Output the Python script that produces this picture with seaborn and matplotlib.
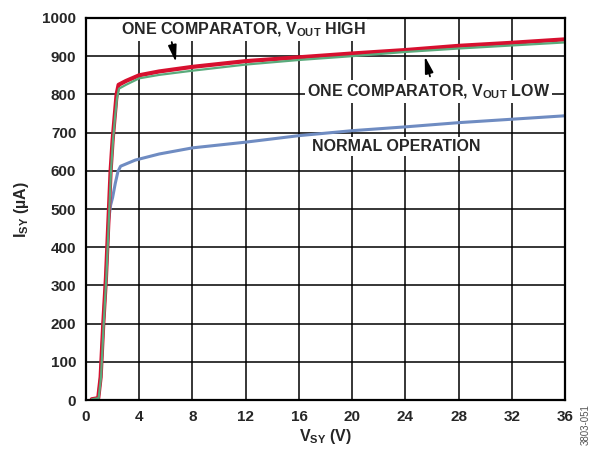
import matplotlib
matplotlib.use("Agg")
import matplotlib.pyplot as plt
import seaborn as sns

# supply voltage (V) and supply current (uA)
v_high = [0.43, 0.92, 1.1, 1.3, 1.5, 1.7, 1.85, 2.0, 2.15, 2.3, 2.45, 3.0, 4.0, 5.5, 8, 12, 16, 20, 24, 28, 32, 36]
i_high = [2, 5, 60, 200, 320, 480, 600, 680, 740, 800, 825, 835, 850, 860, 872, 887, 897, 907, 916, 927, 935, 944]

v_low = [0.43, 0.95, 1.13, 1.33, 1.53, 1.73, 1.88, 2.03, 2.18, 2.33, 2.48, 3.0, 4.0, 5.5, 8, 12, 16, 20, 24, 28, 32, 36]
i_low = [2, 5, 60, 200, 320, 480, 600, 680, 740, 790, 815, 825, 842, 851, 862, 878, 890, 900, 911, 920, 928, 936]

v_norm = [0.43, 0.92, 1.1, 1.3, 1.5, 1.7, 1.85, 2.0, 2.2, 2.4, 2.6, 3.7, 5.5, 8, 12, 16, 20, 24, 28, 32, 36]
i_norm = [2, 5, 60, 200, 320, 470, 510, 530, 567, 598, 612, 628, 644, 660, 675, 692, 705, 715, 726, 735, 744]

x_ticks = list(range(0, 37, 4))
y_ticks = list(range(0, 1001, 100))

sns.set_style("white")
plt.rcParams['font.family'] = ['Liberation Sans', 'DejaVu Sans']
plt.rcParams['font.weight'] = 'bold'
plt.rcParams['mathtext.fontset'] = 'custom'
plt.rcParams['mathtext.rm'] = 'Liberation Sans:bold'
plt.rcParams['mathtext.bf'] = 'Liberation Sans:bold'
plt.rcParams['mathtext.it'] = 'Liberation Sans:bold'

fig = plt.figure(figsize=(5.93, 4.49), dpi=100)
ax = fig.add_axes([0.145, 0.109, 0.808, 0.851])

sns.lineplot(x=v_norm, y=i_norm, ax=ax, color="#6f8cc2", linewidth=2.2, estimator=None, sort=False)
sns.lineplot(x=v_high, y=i_high, ax=ax, color="#d7102f", linewidth=3.0, estimator=None, sort=False)
sns.lineplot(x=v_low, y=i_low, ax=ax, color="#5aab7c", linewidth=1.6, estimator=None, sort=False)

ax.set_xlim(0, 36)
ax.set_ylim(0, 1000)
ax.set_xticks(x_ticks)
ax.set_yticks(y_ticks)
ax.grid(True, color="black", linewidth=1.1)
ax.set_axisbelow(True)
for s in ax.spines.values():
    s.set_color("black")
    s.set_linewidth(1.6)
ax.tick_params(length=0, labelsize=11, pad=7)
for lab in ax.get_xticklabels() + ax.get_yticklabels():
    lab.set_fontweight("bold")

ax.set_xlabel(r"V$_{\mathrm{SY}}$ (V)", fontsize=11.5, fontweight="bold", labelpad=2)
ax.set_ylabel(r"I$_{\mathrm{SY}}$ (µA)", fontsize=11.5, fontweight="bold", labelpad=8)

box = dict(facecolor="white", edgecolor="none", pad=1.5)
ax.text(2.6, 969, r"ONE COMPARATOR, V$_{\mathrm{OUT}}$ HIGH", fontsize=11.5, fontweight="bold",
        va="center", ha="left", bbox=box)
ax.text(16.6, 807, r"ONE COMPARATOR, V$_{\mathrm{OUT}}$ LOW", fontsize=11.5, fontweight="bold",
        va="center", ha="left", bbox=box)
ax.text(17.0, 663, "NORMAL OPERATION", fontsize=11.5, fontweight="bold",
        va="center", ha="left", bbox=box)

arrow = dict(arrowstyle="-|>,head_length=1.0,head_width=0.25", color="black", lw=1.3)
ax.annotate("", xy=(6.8, 877), xytext=(6.4, 944), arrowprops=arrow)
ax.annotate("", xy=(25.4, 907), xytext=(25.9, 840), arrowprops=arrow)

fig.text(0.988, 0.008, "3803-051", rotation=90, fontsize=7, color="#555555",
         fontweight="normal", ha="center", va="bottom")

fig.savefig("out.png", dpi=100)
